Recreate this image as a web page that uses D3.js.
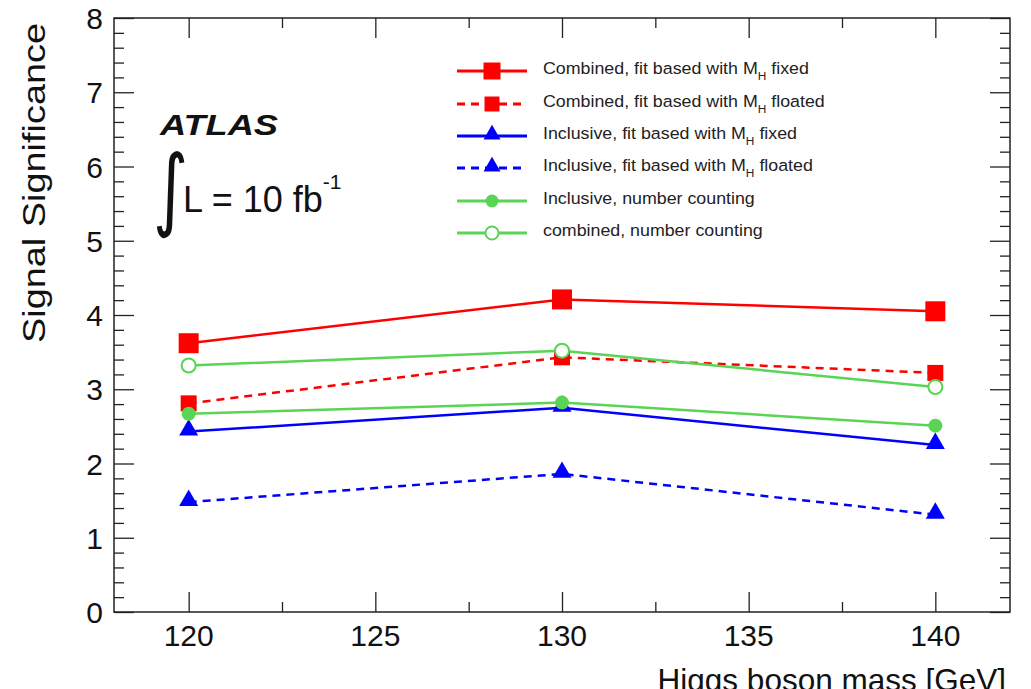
<!DOCTYPE html>
<html>
<head>
<meta charset="utf-8">
<script src="https://cdn.jsdelivr.net/npm/d3@7"></script>
<style>
  body { margin: 0; background: #fff; }
  svg { display: block; font-family: "Liberation Sans", Arial, sans-serif; }
</style>
</head>
<body>
<div id="chart"></div>
<script>
// masses (GeV)
var masses = [120, 130, 140];

// significance per series
var combFitFixed = [3.62, 4.21, 4.05];
var combFitFloated = [2.81, 3.43, 3.22];
var inclFitFixed = [2.43, 2.75, 2.25];
var inclFitFloated = [1.48, 1.86, 1.31];
var inclCounting = [2.67, 2.82, 2.51];
var combCounting = [3.32, 3.52, 3.03];

var seriesNames = [
    'Combined, fit based with M_H fixed',
    'Combined, fit based with M_H floated',
    'Inclusive, fit based with M_H fixed',
    'Inclusive, fit based with M_H floated',
    'Inclusive, number counting',
    'combined, number counting'
];

var xTicks = [120, 125, 130, 135, 140];
var yTicks = [0, 1, 2, 3, 4, 5, 6, 7, 8];

var RED = '#ff0000', BLUE = '#0000ff', GREEN = '#59d454';

var series = [
    { name: seriesNames[0], values: combFitFixed,   color: RED,   dash: null,  marker: 'square',   size: 20, legSize: 17 },
    { name: seriesNames[1], values: combFitFloated, color: RED,   dash: '8,6', marker: 'square',   size: 16, legSize: 15 },
    { name: seriesNames[2], values: inclFitFixed,   color: BLUE,  dash: null,  marker: 'triangle', size: 19, legSize: 17 },
    { name: seriesNames[3], values: inclFitFloated, color: BLUE,  dash: '8,6', marker: 'triangle', size: 19, legSize: 17 },
    { name: seriesNames[4], values: inclCounting,   color: GREEN, dash: null,  marker: 'circle',   size: 14, legSize: 13 },
    { name: seriesNames[5], values: combCounting,   color: GREEN, dash: null,  marker: 'open',     size: 14, legSize: 13 }
];

var svgWidth = 1031, svgHeight = 689;
var frame = { left: 114, right: 1010, top: 18, bottom: 612 };

var svg = d3.select('#chart').append('svg')
    .attr('width', svgWidth)
    .attr('height', svgHeight);

var x = d3.scaleLinear().domain([118, 142]).range([frame.left, frame.right]);
var y = d3.scaleLinear().domain([0, 8]).range([frame.bottom, frame.top]);

// ROOT-like ticks on all four sides, pointing inwards
var majorLen = 20, minorLen = 10;
var xMinor = d3.range(117.5, 142.01, 2.5).filter(v => v >= 118 && v <= 142 && xTicks.indexOf(v) < 0);
var yMinor = d3.range(0, 8.001, 0.2).map(v => +v.toFixed(1)).filter(v => yTicks.indexOf(v) < 0);

function tickAxis(axisFn, scale, ticks, len, transform) {
    svg.append('g')
        .attr('transform', transform)
        .call(axisFn(scale).tickValues(ticks).tickSize(len).tickFormat(''))
        .call(g => g.select('.domain').remove())
        .call(g => g.selectAll('line').attr('stroke', '#222').attr('stroke-width', 1.3));
}
tickAxis(d3.axisTop, x, xTicks, majorLen, `translate(0,${frame.bottom})`);
tickAxis(d3.axisTop, x, xMinor, minorLen, `translate(0,${frame.bottom})`);
tickAxis(d3.axisBottom, x, xTicks, majorLen, `translate(0,${frame.top})`);
tickAxis(d3.axisBottom, x, xMinor, minorLen, `translate(0,${frame.top})`);
tickAxis(d3.axisRight, y, yTicks, majorLen, `translate(${frame.left},0)`);
tickAxis(d3.axisRight, y, yMinor, minorLen, `translate(${frame.left},0)`);
tickAxis(d3.axisLeft, y, yTicks, majorLen, `translate(${frame.right},0)`);
tickAxis(d3.axisLeft, y, yMinor, minorLen, `translate(${frame.right},0)`);

svg.append('rect')
    .attr('x', frame.left).attr('y', frame.top)
    .attr('width', frame.right - frame.left)
    .attr('height', frame.bottom - frame.top)
    .attr('fill', 'none').attr('stroke', '#222').attr('stroke-width', 1.5);

// tick labels
svg.append('g').selectAll('text')
    .data(xTicks).enter().append('text')
    .attr('x', d => x(d))
    .attr('y', frame.bottom + 34)
    .attr('text-anchor', 'middle')
    .attr('font-size', 30)
    .attr('fill', '#111')
    .text(d => d);

svg.append('g').selectAll('text')
    .data(yTicks).enter().append('text')
    .attr('x', frame.left - 11)
    .attr('y', d => y(d) + 11)
    .attr('text-anchor', 'end')
    .attr('font-size', 30)
    .attr('fill', '#111')
    .text(d => d);

// axis titles (x title is clipped by the bottom edge, as in the original)
svg.append('text')
    .attr('x', 1006)
    .attr('y', 691)
    .attr('text-anchor', 'end')
    .attr('font-size', 31.5)
    .attr('fill', '#111')
    .text('Higgs boson mass [GeV]');

svg.append('text')
    .attr('transform', `translate(45,343) rotate(-90)`)
    .attr('font-size', 32)
    .attr('textLength', 320)
    .attr('lengthAdjust', 'spacingAndGlyphs')
    .attr('fill', '#111')
    .text('Signal Significance');

// ATLAS label and luminosity
svg.append('text')
    .attr('x', 160).attr('y', 135)
    .attr('font-size', 30)
    .attr('font-weight', 'bold')
    .attr('font-style', 'italic')
    .attr('textLength', 118)
    .attr('lengthAdjust', 'spacingAndGlyphs')
    .attr('fill', '#111')
    .text('ATLAS');

svg.append('g')
    .attr('transform', 'translate(153,219) scale(0.75,1)')
    .append('text')
    .attr('font-size', 90)
    .attr('font-family', '"DejaVu Sans", sans-serif')
    .attr('fill', '#111')
    .text('\u222B');

var lumi = svg.append('text')
    .attr('x', 183).attr('y', 212)
    .attr('font-size', 36)
    .attr('fill', '#111');
lumi.append('tspan').text('L = 10 fb');
lumi.append('tspan').attr('dy', -23).attr('font-size', 21).text('-1');

// marker drawing
var symbolType = { square: d3.symbolSquare, triangle: d3.symbolTriangle, circle: d3.symbolCircle, open: d3.symbolCircle };
function symbolArea(marker, size) {
    if (marker === 'square') return size * size;
    if (marker === 'triangle') return size * size * Math.sqrt(3) / 4;
    return Math.PI * (size / 2) * (size / 2);
}
function drawMarker(g, s, cx, cy, size) {
    var sym = d3.symbol().type(symbolType[s.marker]).size(symbolArea(s.marker, size));
    var dy = s.marker === 'triangle' ? -size * 0.08 : 0;
    g.append('path')
        .attr('d', sym())
        .attr('transform', `translate(${cx},${cy + dy})`)
        .attr('fill', s.marker === 'open' ? '#fff' : s.color)
        .attr('stroke', s.marker === 'open' ? s.color : 'none')
        .attr('stroke-width', 2);
}

var line = d3.line().x((d, i) => x(masses[i])).y(d => y(d));

var plot = svg.append('g');
series.forEach(function (s) {
    plot.append('path')
        .datum(s.values)
        .attr('d', line)
        .attr('fill', 'none')
        .attr('stroke', s.color)
        .attr('stroke-width', 2.5)
        .attr('stroke-dasharray', s.dash);
});
series.forEach(function (s) {
    s.values.forEach((v, i) => drawMarker(plot, s, x(masses[i]), y(v), s.size));
});

// legend
var legendRows = [71, 104, 136, 168, 201, 233];
var legend = svg.append('g');
series.forEach(function (s, i) {
    var ly = legendRows[i];
    legend.append('line')
        .attr('x1', 457).attr('x2', 527)
        .attr('y1', ly).attr('y2', ly)
        .attr('stroke', s.color)
        .attr('stroke-width', 2.8)
        .attr('stroke-dasharray', s.dash);
    drawMarker(legend, s, 492, ly, s.legSize);

    var parts = s.name.split('M_H');
    var t = legend.append('g')
        .attr('transform', `translate(543,${ly + 3}) scale(1.08,1)`)
        .append('text')
        .attr('font-size', 16.5)
        .attr('fill', '#222');
    t.append('tspan').text(parts[0]);
    if (parts.length > 1) {
        t.append('tspan').text('M');
        t.append('tspan').attr('dy', 6).attr('font-size', 11).text('H');
        t.append('tspan').attr('dy', -6).text(' ' + parts[1].trim());
    }
});
</script>
</body>
</html>
